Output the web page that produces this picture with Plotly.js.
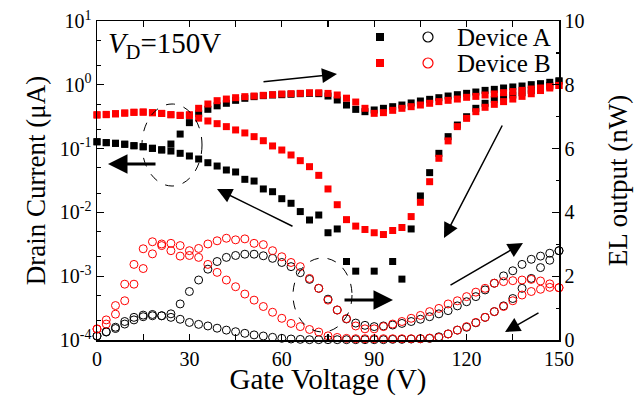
<!DOCTYPE html>
<html>
<head>
<meta charset="utf-8">
<script src="https://cdn.plot.ly/plotly-3.0.1.min.js"></script>
<style>html,body{margin:0;padding:0;background:#fff;}#chart{width:641px;height:396px;}</style>
</head>
<body>
<div id="chart"></div>
<script>
// Gate voltage (V), forward sweep 0->150 and backward sweep 150->0 share these points
const voltage = [0,3,6,9,12,15,18,21,24,27,30,33,36,39,42,45,48,51,54,57,60,63,66,69,72,75,78,81,84,87,90,93,96,99,102,105,108,111,114,117,120,123,126,129,132,135,138,141,144,147,150];

// Drain current (uA), left log axis
const drainA_fwd = [0.128,0.124,0.121,0.117,0.111,0.107,0.101,0.096,0.118,0.169,
  0.255,0.353,0.413,0.468,0.513,0.571,0.614,0.652,0.676,0.692,
  0.700,0.710,0.726,0.735,0.726,0.667,0.578,0.482,0.412,0.379,
  0.403,0.428,0.454,0.482,0.519,0.557,0.592,0.628,0.667,0.700,
  0.735,0.771,0.818,0.849,0.891,0.925,0.957,1.005,1.042,1.094,
  1.148];
const drainA_bwd = [0.128,0.124,0.121,0.117,0.111,0.107,0.101,0.095,0.0916,0.0843,
  0.0766,0.0687,0.0601,0.0533,0.0462,0.0430,0.0330,0.0310,0.0233,0.0211,
  0.0164,0.0139,0.0103,0.0076,0.0091,0.0048,0.0055,0.0017,0.0012,null,
  0.0012,null,0.0017,0.0009,0.0055,0.0181,0.042,0.0843,0.154,0.234,
  0.316,0.428,0.513,0.592,0.644,0.692,0.75,0.81,0.89,0.98,
  1.148];
const drainB_fwd = [0.340,0.344,0.353,0.361,0.371,0.375,0.366,0.357,0.340,0.333,
  0.340,0.428,0.500,0.564,0.598,0.628,0.652,0.667,0.684,0.700,
  0.718,0.726,0.735,0.750,0.750,0.733,0.692,0.617,0.537,0.428,
  0.357,0.366,0.398,0.428,0.454,0.482,0.513,0.545,0.571,0.598,
  0.637,0.659,0.692,0.718,0.753,0.782,0.818,0.859,0.891,0.935,
  0.977];
const drainB_bwd = [0.335,0.340,0.350,0.360,0.370,0.372,0.365,0.355,0.340,0.330,
  0.330,0.300,0.271,0.246,0.221,0.196,0.176,0.154,0.133,0.110,
  0.095,0.0794,0.0647,0.0521,0.0381,0.0233,0.0132,0.0077,0.0061,0.0054,
  0.0048,0.0045,0.0052,0.0058,0.0086,0.0144,0.0303,0.0705,0.132,0.221,
  0.298,0.379,0.444,0.494,0.545,0.598,0.659,0.724,0.813,0.891,
  0.977];

// EL output (nW), right linear axis
const elA_fwd = [0.13,0.25,0.36,0.50,0.63,0.73,0.76,0.76,0.82,1.13,
  1.52,1.88,2.22,2.46,2.59,2.65,2.69,2.69,2.64,2.56,
  2.43,2.30,2.11,1.90,1.62,1.28,0.94,0.66,0.53,0.46,
  0.42,0.44,0.47,0.52,0.58,0.65,0.73,0.82,0.92,1.07,
  1.20,1.36,1.57,1.78,2.01,2.17,2.37,2.53,2.63,2.72,
  2.80];
const elA_bwd = [0.12,0.26,0.40,0.58,0.71,0.78,0.80,0.76,0.71,0.65,
  0.55,0.49,0.44,0.37,0.31,0.26,0.21,0.16,0.125,0.084,
  0.052,0.031,0.02,0.01,0.01,0.01,0.01,0.01,0.01,0.01,
  0.01,0.01,0.02,0.02,0.03,0.04,0.05,0.10,0.19,0.31,
  0.40,0.54,0.71,0.89,1.07,1.30,1.62,1.93,2.27,2.50,
  2.80];
const elB_fwd = [0.34,0.50,0.81,1.23,1.75,2.24,2.70,2.96,2.80,2.63,
  2.65,2.87,3.01,3.11,3.19,3.14,3.17,3.03,2.99,2.80,
  2.61,2.43,2.30,1.93,1.62,1.25,0.94,0.67,0.44,0.35,
  0.35,0.42,0.50,0.58,0.68,0.77,0.89,0.99,1.13,1.23,
  1.36,1.50,1.62,1.78,1.83,1.86,1.88,1.90,1.85,1.76,
  1.64];
const elB_bwd = [0.35,0.63,1.08,1.75,2.37,2.86,3.08,3.01,3.03,2.96,
  2.80,2.59,2.37,2.12,1.88,1.67,1.44,1.25,1.05,0.87,
  0.68,0.52,0.42,0.33,0.25,0.13,0.08,0.05,0.04,0.04,
  0.04,0.04,0.04,0.04,0.04,0.04,0.06,0.08,0.19,0.31,
  0.42,0.55,0.71,0.89,1.05,1.23,1.41,1.52,1.59,1.65,
  1.64];

const logTicks = [1e-4,1e-3,1e-2,1e-1,1,10];
const logTickText = ['10<sup>-4</sup>','10<sup>-3</sup>','10<sup>-2</sup>','10<sup>-1</sup>','10<sup>0</sup>','10<sup>1</sup>'];
const xTicks = [0,30,60,90,120,150];
const elTicks = [0,2,4,6,8,10];

const BLACK = '#000000', RED = '#ff0000';
function sq(y, c){ return {x: voltage, y: y, type:'scatter', mode:'markers', yaxis:'y', cliponaxis:false,
  marker:{symbol:'square', size:7, color:c, line:{width:0}}, hoverinfo:'skip'}; }
function ci(y, c){ return {x: voltage, y: y, type:'scatter', mode:'markers', yaxis:'y2', cliponaxis:false,
  marker:{symbol:'circle-open', size:8, color:c, line:{width:1, color:c}}, hoverinfo:'skip'}; }

const traces = [
  ci(elA_fwd, BLACK), ci(elA_bwd, BLACK), ci(elB_fwd, RED), ci(elB_bwd, RED),
  sq(drainA_fwd, BLACK), sq(drainA_bwd, BLACK), sq(drainB_fwd, RED), sq(drainB_bwd, RED)
];

// plot-area pixel helpers (only for annotations / decorations)
const L = 97, R = 559, T = 21, B = 340;
const px = v => (v - L) / (R - L);
const py = v => (B - v) / (B - T);

function arrow(hx, hy, tx, ty, w, s){
  return {xref:'paper', yref:'paper', x:px(hx), y:py(hy), ax:tx-hx, ay:ty-hy, axref:'pixel', ayref:'pixel',
    text:'', showarrow:true, arrowhead:2, arrowsize:s, arrowwidth:w, arrowcolor:'#000'};
}

const font = '"Times New Roman", "Liberation Serif", "DejaVu Serif", serif';
const layout = {
  width:641, height:396,
  margin:{l:L, r:641-R, t:T, b:396-B, pad:0},
  paper_bgcolor:'#fff', plot_bgcolor:'#fff',
  showlegend:false,
  font:{family:font, color:'#000', size:20},
  xaxis:{range:[0,150], tickvals:xTicks, ticks:'inside', ticklen:6, tickwidth:1.2, tickcolor:'#000',
    minor:{tickvals:[15,45,75,105,135], ticks:'inside', ticklen:3.5, tickwidth:1.2, tickcolor:'#000'},
    showline:true, linewidth:1.5, linecolor:'#000', mirror:'allticks', showgrid:false, zeroline:false,
    tickfont:{family:font, size:20, color:'#000'},
    title:{text:'Gate Voltage (V)', font:{family:font, size:29, color:'#000'}, standoff:3}},
  yaxis:{type:'log', range:[-4,1], tickvals:logTicks, ticktext:logTickText, ticks:'inside', ticklen:7, tickwidth:1.2, tickcolor:'#000',
    minor:{ticks:'inside', ticklen:3.5, tickwidth:1, tickcolor:'#000'},
    showline:true, linewidth:1.5, linecolor:'#000', showgrid:false, zeroline:false,
    tickfont:{family:font, size:20, color:'#000'},
    title:{text:'Drain Current (\u03bcA)', font:{family:font, size:27, color:'#000'}, standoff:6}},
  yaxis2:{overlaying:'y', side:'right', range:[0,10], tickvals:elTicks, ticks:'inside', ticklen:7, tickwidth:1.2, tickcolor:'#000',
    minor:{tickvals:[1,3,5,7,9], ticks:'inside', ticklen:3.5, tickwidth:1.2, tickcolor:'#000'},
    showline:true, linewidth:1.5, linecolor:'#000', showgrid:false, zeroline:false,
    tickfont:{family:font, size:20, color:'#000'},
    title:{text:'EL output (nW)', font:{family:font, size:27, color:'#000'}, standoff:24}},
  annotations:[
    {xref:'paper', yref:'paper', x:px(106), y:py(45), xanchor:'left', yanchor:'middle', showarrow:false,
      text:'<i>V</i><sub>D</sub>=150V', font:{family:font, size:29, color:'#000'}},
    {xref:'paper', yref:'paper', x:px(455), y:py(37), xanchor:'left', yanchor:'middle', showarrow:false,
      text:'Device A', font:{family:font, size:25, color:'#000'}},
    {xref:'paper', yref:'paper', x:px(455), y:py(63), xanchor:'left', yanchor:'middle', showarrow:false,
      text:'Device B', font:{family:font, size:25, color:'#000'}},
    arrow(337,74,262,82,1.5,2),
    arrow(108,164,157,164,3,1.3),
    arrow(217,189,294,227,1.5,2),
    arrow(444,238,503,124,1.5,2),
    arrow(393,300,343,300,3,1.3),
    arrow(523,243,449,286,1.5,2),
    arrow(505,332,540,312,1.5,2)
  ],
  shapes:[
    {type:'circle', xref:'paper', yref:'paper', x0:px(142), x1:px(202), y0:py(186), y1:py(104),
      line:{color:'#000', width:1, dash:'dash'}},
    {type:'circle', xref:'paper', yref:'paper', x0:px(293), x1:px(352), y0:py(332), y1:py(258),
      line:{color:'#000', width:1, dash:'dash'}},
    {type:'rect', xref:'paper', yref:'paper', xsizemode:'pixel', ysizemode:'pixel', xanchor:px(380), yanchor:py(37),
      x0:-4, x1:4, y0:-4, y1:4, fillcolor:BLACK, line:{width:0}},
    {type:'circle', xref:'paper', yref:'paper', xsizemode:'pixel', ysizemode:'pixel', xanchor:px(428), yanchor:py(37),
      x0:-5, x1:5, y0:-5, y1:5, line:{color:BLACK, width:1.2}},
    {type:'rect', xref:'paper', yref:'paper', xsizemode:'pixel', ysizemode:'pixel', xanchor:px(380), yanchor:py(63),
      x0:-4, x1:4, y0:-4, y1:4, fillcolor:RED, line:{width:0}},
    {type:'circle', xref:'paper', yref:'paper', xsizemode:'pixel', ysizemode:'pixel', xanchor:px(428), yanchor:py(63),
      x0:-5, x1:5, y0:-5, y1:5, line:{color:RED, width:1.2}}
  ]
};

Plotly.newPlot('chart', traces, layout, {staticPlot:true, displayModeBar:false});
</script>
</body>
</html>
